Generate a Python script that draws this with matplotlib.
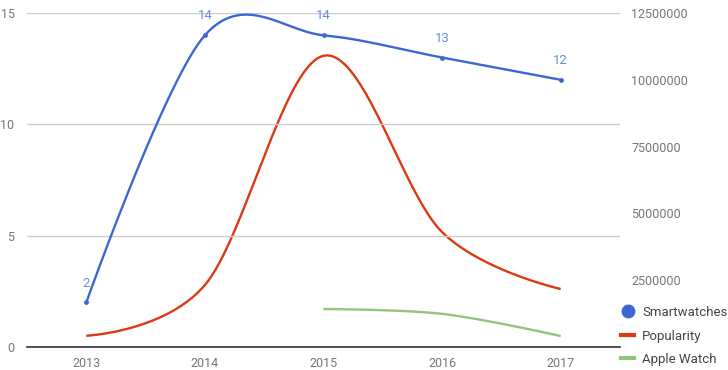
import numpy as np
import matplotlib
matplotlib.use("Agg")
import matplotlib.pyplot as plt
from matplotlib.lines import Line2D

plt.rcParams["font.family"] = ["Roboto", "DejaVu Sans"]

# Données
annees = [2013, 2014, 2015, 2016, 2017]
smartwatches = [2, 14, 14, 13, 12]
popularite = [420000, 2320000, 10900000, 4300000, 2170000]
annees_apple = [2015, 2016, 2017]
apple_watch = [1420000, 1240000, 410000]

BLEU = "#3c67d3"
BLEU_TXT = "#6a8cdf"
ROUGE = "#dc3912"
VERT = "#93c47d"
GRIS = "#757575"


def courbe(xs, ys, n=40):
    """Lissage façon 'function' : Bézier cubiques, contrôles aux extrémités = points."""
    xs = np.asarray(xs, float)
    ys = np.asarray(ys, float)
    k = len(xs)
    tx = np.zeros(k)
    ty = np.zeros(k)
    for i in range(1, k - 1):
        tx[i] = (xs[i + 1] - xs[i - 1]) / 6
        ty[i] = (ys[i + 1] - ys[i - 1]) / 6
    t = np.linspace(0, 1, n)[:, None]
    px, py = [], []
    for i in range(k - 1):
        p0 = np.array([xs[i], ys[i]])
        p3 = np.array([xs[i + 1], ys[i + 1]])
        p1 = p0 + np.array([tx[i], ty[i]])
        p2 = p3 - np.array([tx[i + 1], ty[i + 1]])
        b = ((1 - t) ** 3) * p0 + 3 * ((1 - t) ** 2) * t * p1 \
            + 3 * (1 - t) * t ** 2 * p2 + t ** 3 * p3
        px.append(b[:, 0])
        py.append(b[:, 1])
    return np.concatenate(px), np.concatenate(py)


fig = plt.figure(figsize=(7.28, 3.70), dpi=100)
ax = fig.add_axes([27 / 728, 1 - 347 / 370, 593 / 728, 334 / 370])
ax2 = ax.twinx()

ax.set_xlim(2012.5, 2017.5)
ax.set_ylim(0, 15)
ax2.set_ylim(0, 12500000)

# grille gauche
ax.set_yticks([0, 5, 10, 15])
ax.yaxis.grid(True, color="#cccccc", linewidth=1)
ax.set_axisbelow(True)
ax.set_xticks(annees)
ax.set_xticklabels([str(a) for a in annees])

for s in ["top", "left", "right"]:
    ax.spines[s].set_visible(False)
    ax2.spines[s].set_visible(False)
ax2.spines["bottom"].set_visible(False)
ax.spines["bottom"].set_color("#333333")
ax.spines["bottom"].set_linewidth(1.2)

ax.tick_params(axis="both", length=0, colors=GRIS, labelsize=9)
ax.tick_params(axis="y", pad=9)
ax.tick_params(axis="x", pad=7)
ax2.set_yticks([2500000, 5000000, 7500000, 10000000, 12500000])
ax2.set_yticklabels([str(v) for v in [2500000, 5000000, 7500000, 10000000, 12500000]])
ax2.tick_params(axis="y", length=0, colors=GRIS, labelsize=9, pad=8)

# Séries
x, y = courbe(annees, popularite)
ax2.plot(x, y, color=ROUGE, linewidth=1.7, solid_capstyle="butt", zorder=3)
x, y = courbe(annees_apple, apple_watch)
ax2.plot(x, y, color=VERT, linewidth=1.7, solid_capstyle="butt", zorder=3)

ax.set_zorder(ax2.get_zorder() + 1)
ax.patch.set_visible(False)
x, y = courbe(annees, smartwatches)
ax.plot(x, y, color=BLEU, linewidth=1.7, zorder=4)
ax.plot(annees, smartwatches, "o", color=BLEU, markersize=3.5,
        markeredgewidth=0, zorder=7)

for a, v in zip(annees, smartwatches):
    ax.annotate(str(v), xy=(a, v), xytext=(0, 14), textcoords="offset points",
                ha="center", va="center", color=BLEU_TXT, fontsize=9.5,
                arrowprops=dict(arrowstyle="-", color="#dddddd", lw=1,
                                shrinkA=6, shrinkB=3),
                zorder=6, annotation_clip=False)

# Légende
poignees = [
    Line2D([], [], marker="o", linestyle="none", color=BLEU, markersize=9),
    Line2D([], [], color=ROUGE, linewidth=3),
    Line2D([], [], color=VERT, linewidth=3),
]
fig.legend(poignees, ["Smartwatches", "Popularity", "Apple Watch"],
           loc="upper left", bbox_to_anchor=(621 / 728, 1 - 306 / 370),
           frameon=False, fontsize=9.5, handlelength=1.0, handletextpad=0.6,
           labelspacing=0.8, labelcolor="#444444", borderpad=0, borderaxespad=0)

fig.savefig("out.png", dpi=100, facecolor="white")
